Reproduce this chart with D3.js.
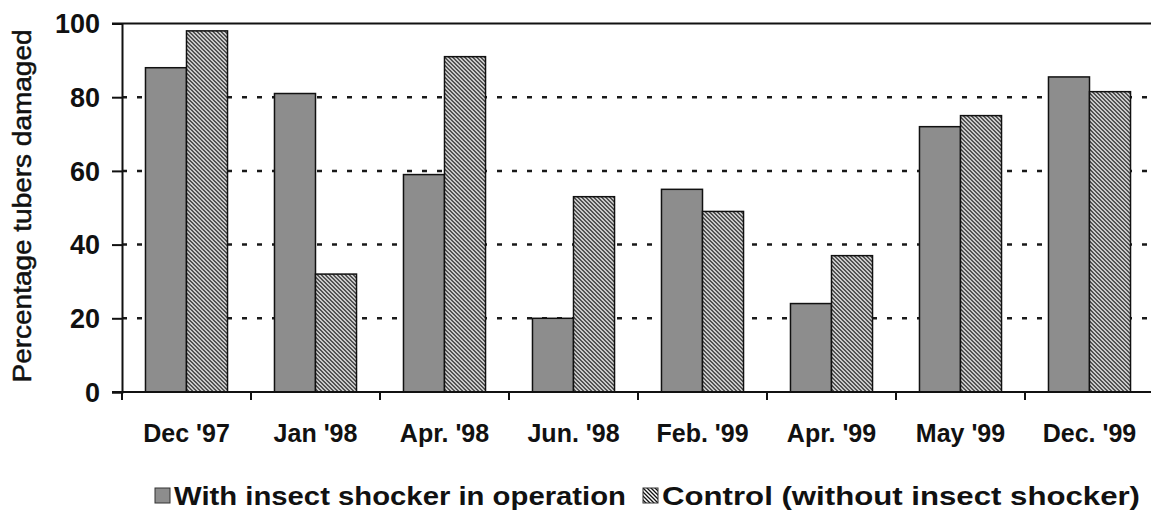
<!DOCTYPE html>
<html>
<head>
<meta charset="utf-8">
<script src="https://cdn.jsdelivr.net/npm/d3@7"></script>
<style>
  body { margin: 0; background: #fff; }
  svg { display: block; font-family: "Liberation Sans", Arial, sans-serif; }
</style>
</head>
<body>
<svg id="chart" width="1151" height="515"></svg>
<script>
// data
var categories = ["Dec '97", "Jan '98", "Apr. '98", "Jun. '98", "Feb. '99", "Apr. '99", "May '99", "Dec. '99"];
var series = ["With insect shocker in operation", "Control (without insect shocker)"];
var withShocker = [88, 81, 59, 20, 55, 24, 72, 85.5];
var control = [98, 32, 91, 53, 49, 37, 75, 81.5];
var yTicks = [0, 20, 40, 60, 80, 100];

var svg = d3.select("#chart");

// plot box (window.top is taken, so no "top" here)
var plotLeft = 122, plotRight = 1154, plotTop = 23.5, plotBottom = 392;

// hatch for the control bars
var defs = svg.append("defs");
var pat = defs.append("pattern")
    .attr("id", "hatch")
    .attr("patternUnits", "userSpaceOnUse")
    .attr("width", 4).attr("height", 4);
pat.append("rect").attr("width", 4).attr("height", 4).attr("fill", "#fff");
pat.append("path")
    .attr("d", "M-1,-1 L5,5 M-1,3 L1,5 M3,-1 L5,1")
    .attr("stroke", "#111")
    .attr("stroke-width", 1.3);

var fills = ["#8d8d8d", "url(#hatch)"];

var x0 = d3.scaleBand()
    .domain(categories)
    .range([plotLeft, plotRight])
    .paddingInner(0.364)
    .paddingOuter(0.182);

var x1 = d3.scaleBand()
    .domain([0, 1])
    .range([0, x0.bandwidth()]);

var y = d3.scaleLinear()
    .domain([0, 100])
    .range([plotBottom, plotTop]);

// dotted gridlines
svg.append("g")
  .selectAll("line")
  .data(yTicks.filter(function(d) { return d > 0 && d < 100; }))
  .enter().append("line")
    .attr("x1", plotLeft).attr("x2", 1151)
    .attr("y1", function(d) { return y(d); })
    .attr("y2", function(d) { return y(d); })
    .attr("stroke", "#1a1a1a")
    .attr("stroke-width", 2.5)
    .attr("stroke-dasharray", "5,10");

// bars
var groups = svg.append("g")
  .selectAll("g")
  .data(categories)
  .enter().append("g")
    .attr("transform", function(d) { return "translate(" + x0(d) + ",0)"; });

groups.selectAll("rect")
  .data(function(d, i) { return [withShocker[i], control[i]]; })
  .enter().append("rect")
    .attr("x", function(d, j) { return x1(j); })
    .attr("y", function(d) { return y(d); })
    .attr("width", x1.bandwidth())
    .attr("height", function(d) { return y(0) - y(d); })
    .attr("fill", function(d, j) { return fills[j]; })
    .attr("stroke", "#111")
    .attr("stroke-width", 1.5);

// y axis
var yAxis = d3.axisLeft(y)
    .tickValues(yTicks)
    .tickSize(10)
    .tickPadding(12);

var gy = svg.append("g")
    .attr("transform", "translate(" + plotLeft + ",0)")
    .call(yAxis);
gy.select(".domain").attr("stroke", "#111").attr("stroke-width", 2);
gy.selectAll(".tick line").attr("stroke", "#111").attr("stroke-width", 2);
gy.selectAll(".tick text")
    .attr("fill", "#111")
    .attr("font-size", 27)
    .attr("font-weight", "bold")
    .attr("dy", "0.34em");

// top border and baseline
svg.append("line")
    .attr("x1", plotLeft - 10).attr("x2", 1151)
    .attr("y1", y(100)).attr("y2", y(100))
    .attr("stroke", "#111").attr("stroke-width", 2);
svg.append("line")
    .attr("x1", plotLeft - 10).attr("x2", 1151)
    .attr("y1", y(0)).attr("y2", y(0))
    .attr("stroke", "#111").attr("stroke-width", 2);

// category separator ticks
svg.append("g")
  .selectAll("line")
  .data(categories)
  .enter().append("line")
    .attr("x1", function(d) { return x0(d) - x0.step() * 0.182; })
    .attr("x2", function(d) { return x0(d) - x0.step() * 0.182; })
    .attr("y1", y(0)).attr("y2", y(0) + 8)
    .attr("stroke", "#111").attr("stroke-width", 2);

// category labels
svg.append("g")
  .selectAll("text")
  .data(categories)
  .enter().append("text")
    .attr("x", function(d) { return x0(d) + x0.bandwidth() / 2; })
    .attr("y", 442)
    .attr("text-anchor", "middle")
    .attr("font-size", 25)
    .attr("font-weight", "bold")
    .attr("fill", "#111")
    .text(function(d) { return d; });

// y title
svg.append("text")
    .attr("transform", "translate(31,206) rotate(-90)")
    .attr("text-anchor", "middle")
    .attr("font-size", 25)
    .attr("textLength", 353)
    .attr("lengthAdjust", "spacingAndGlyphs")
    .attr("fill", "#111")
    .attr("stroke", "#111")
    .attr("stroke-width", 0.5)
    .text("Percentage tubers damaged");

// legend
var legendX = [155, 643];
var legendLen = [452, 478];
var legend = svg.append("g")
  .selectAll("g")
  .data(series)
  .enter().append("g")
    .attr("transform", function(d, i) { return "translate(" + legendX[i] + ",0)"; });

legend.append("rect")
    .attr("x", 0).attr("y", 488)
    .attr("width", 15).attr("height", 15)
    .attr("fill", function(d, i) { return fills[i]; })
    .attr("stroke", "#333")
    .attr("stroke-width", 1);

legend.append("text")
    .attr("x", 19).attr("y", 505)
    .attr("font-size", 26)
    .attr("font-weight", "bold")
    .attr("textLength", function(d, i) { return legendLen[i]; })
    .attr("lengthAdjust", "spacingAndGlyphs")
    .attr("fill", "#111")
    .text(function(d) { return d; });
</script>
</body>
</html>
